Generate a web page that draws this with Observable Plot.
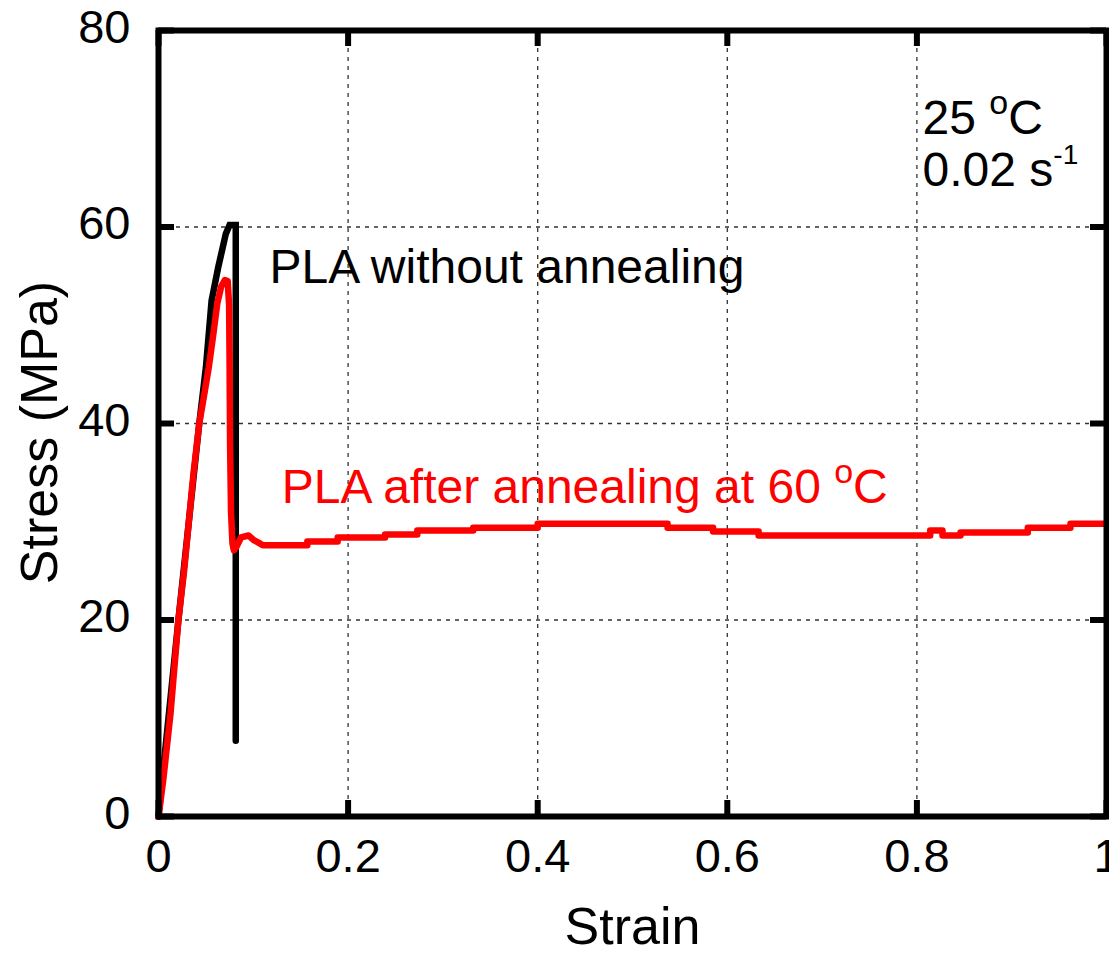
<!DOCTYPE html>
<html><head><meta charset="utf-8">
<script src="https://cdn.jsdelivr.net/npm/d3@7"></script>
<script src="https://cdn.jsdelivr.net/npm/@observablehq/plot@0.6"></script>
<style>
html,body{margin:0;padding:0;background:#fff}
#chart svg{display:block}
</style>
</head><body><div id="chart"></div>
<script>
const xTicks = [0, 0.2, 0.4, 0.6, 0.8, 1];
const yTicks = [0, 20, 40, 60, 80];
const xGridValues = [0.2, 0.4, 0.6, 0.8];
const yGridValues = [20, 40, 60];

const blackStrain = [0, 0.021, 0.043, 0.050, 0.056, 0.063, 0.071, 0.075, 0.0815, 0.0815];
const blackStress = [0, 20, 40, 45.7, 52.5, 55.9, 59.3, 60.2, 60.2, 7.7];

const redStrain = [0, 0.005, 0.0127, 0.021, 0.027, 0.032, 0.037, 0.043, 0.048, 0.053,
  0.058, 0.062, 0.066, 0.070, 0.073, 0.0745, 0.075, 0.0755, 0.0765, 0.078,
  0.0795, 0.082, 0.087, 0.095, 0.101, 0.105, 0.110,
  0.157, 0.157, 0.189, 0.189, 0.239, 0.239, 0.273, 0.273, 0.332, 0.332,
  0.400, 0.400, 0.537, 0.537, 0.585, 0.585, 0.633, 0.633, 0.814, 0.814,
  0.827, 0.827, 0.846, 0.846, 0.917, 0.917, 0.962, 0.962, 1.0];
const redStress = [0, 3.7, 10.5, 20, 25, 30, 35, 40, 42.8, 45.7,
  49.2, 52.2, 53.9, 54.6, 54.5, 52, 46, 38, 31, 27.8,
  27.1, 27.4, 28.4, 28.6, 28.1, 27.9, 27.6,
  27.6, 28.0, 28.0, 28.4, 28.4, 28.7, 28.7, 29.1, 29.1, 29.4,
  29.4, 29.8, 29.8, 29.4, 29.4, 29.0, 29.0, 28.6, 28.6, 29.1,
  29.1, 28.6, 28.6, 28.9, 28.9, 29.4, 29.4, 29.8, 29.8, 29.8];

const W = 1109, H = 953;
const mL = 158, mR = 3, mT = 30, mB = 137;
const plotW = W - mL - mR, plotH = H - mT - mB;
const tickLen = 16;
const font = "'Liberation Sans', Arial, Helvetica, sans-serif";

const chart = Plot.plot({
  width: W, height: H,
  marginLeft: mL, marginRight: mR, marginTop: mT, marginBottom: mB,
  x: {domain: [0, 1]},
  y: {domain: [0, 80]},
  style: {fontFamily: font, fontSize: "47px", background: "#fff", color: "#000", overflow: "visible"},
  marks: [
    Plot.ruleX(xGridValues, {stroke: "#333", strokeWidth: 1.3, strokeDasharray: "4,5"}),
    Plot.ruleY(yGridValues, {stroke: "#333", strokeWidth: 1.3, strokeDasharray: "4,5"}),
    Plot.line(blackStrain, {x: blackStrain, y: blackStress, stroke: "#000", strokeWidth: 6.5, strokeLinejoin: "miter", strokeMiterlimit: 3}),
    Plot.line(redStrain, {x: redStrain, y: redStress, stroke: "#ff0000", strokeWidth: 6.5, strokeLinejoin: "round"}),
    Plot.frame({stroke: "#000", strokeWidth: 6}),
    Plot.tickX(xTicks, {x: d => d, stroke: "#000", strokeWidth: 6, insetTop: plotH - tickLen}),
    Plot.tickX(xTicks, {x: d => d, stroke: "#000", strokeWidth: 6, insetBottom: plotH - tickLen}),
    Plot.tickY(yTicks, {y: d => d, stroke: "#000", strokeWidth: 6, insetRight: plotW - tickLen}),
    Plot.tickY(yTicks, {y: d => d, stroke: "#000", strokeWidth: 6, insetLeft: plotW - tickLen}),
    Plot.axisX(xTicks, {tickSize: 0, tickPadding: 22, tickFormat: d => String(d), fontSize: 47, label: null}),
    Plot.axisY(yTicks, {tickSize: 0, tickPadding: 28, tickFormat: d => String(d), fontSize: 47, dy: -3, label: null}),
    Plot.text(["Strain"], {frameAnchor: "bottom", textAnchor: "middle", dy: 127, lineAnchor: "bottom", fontSize: 52, fill: "#000"}),
    Plot.text(["Stress (MPa)"], {frameAnchor: "left", textAnchor: "middle", dx: -118, dy: 9, rotate: -90, lineAnchor: "middle", fontSize: 52, fill: "#000"}),
    Plot.text(["PLA without annealing"], {x: 0.117, y: 54.3, textAnchor: "start", lineAnchor: "bottom", fontSize: 48, fill: "#000"}),
    Plot.text(["PLA after annealing at 60 oC"], {x: 0.130, y: 31.9, textAnchor: "start", lineAnchor: "bottom", fontSize: 48, fill: "#ff0000"}),
    Plot.text(["25 oC"], {x: 0.806, y: 69.5, textAnchor: "start", lineAnchor: "bottom", fontSize: 48, fill: "#000"}),
    Plot.text(["0.02 s-1"], {x: 0.806, y: 64.2, textAnchor: "start", lineAnchor: "bottom", fontSize: 48, fill: "#000"})
  ]
});

// superscripts (gnuplot-style enhanced text)
function superscript(svg, full, base, sup, rest, supSize, shift) {
  d3.select(svg).selectAll("text").each(function() {
    if (this.textContent === full) {
      const t = d3.select(this);
      t.text(null);
      t.append("tspan").text(base);
      t.append("tspan").attr("font-size", supSize).attr("dy", -shift).text(sup);
      if (rest) t.append("tspan").attr("font-size", 48).attr("dy", shift).text(rest);
    }
  });
}
superscript(chart, "PLA after annealing at 60 oC", "PLA after annealing at 60 ", "o", "C", 34, 20);
superscript(chart, "25 oC", "25 ", "o", "C", 34, 20);
superscript(chart, "0.02 s-1", "0.02 s", "-1", "", 28, 22);

document.getElementById("chart").appendChild(chart);
</script>
</body></html>
